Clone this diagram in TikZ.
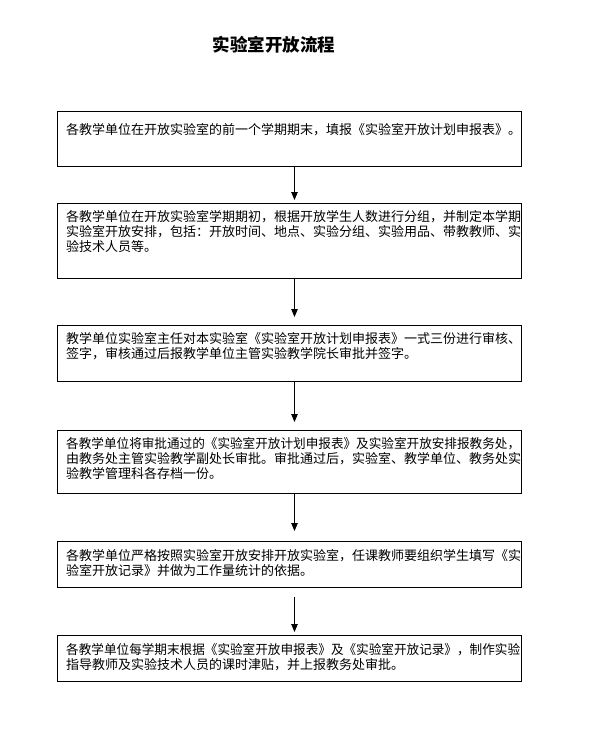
\documentclass[tikz,border=0pt]{standalone}
\usepackage{fontspec}
\usepackage{graphicx}
\setmainfont{Noto Sans CJK SC}
\newfontfamily\cjk{Noto Sans CJK SC}
\usetikzlibrary{arrows.meta,calc}
\tikzset{
  stepbox/.style={draw=black,line width=1pt,rectangle,inner sep=0pt,anchor=north west},
  steptext/.style={anchor=north west,inner sep=0pt,align=left,font=\fontsize{13pt}{15pt}\selectfont\cjk},
  arr/.style={-{Triangle[length=8pt,width=6.5pt]},line width=0.9pt},
}
\newcommand\squeezeline[1]{\scalebox{0.97}[1]{#1}}
\begin{document}
\begin{tikzpicture}[x=1pt,y=-1pt]
\useasboundingbox[fill=white] (0,0) rectangle (599,756);
\coordinate (ax) at (294.5,0);
\node[font=\fontsize{17.5pt}{20pt}\selectfont\cjk\bfseries,anchor=center] (title) at (274,45) {实验室开放流程};

\node[stepbox,minimum width=464pt,minimum height=55pt] (b1) at (57,111) {};
\node[steptext] (t1) at (66,123) {各教学单位在开放实验室的前一个学期期末，填报《实验室开放计划申报表》。};

\node[stepbox,minimum width=464pt,minimum height=75pt] (b2) at (57,203) {};
\node[steptext] (t2) at (66,210) {各教学单位在开放实验室学期期初，根据开放学生人数进行分组，并制定本学期\\实验室开放安排，包括：开放时间、地点、实验分组、实验用品、带教教师、实\\验技术人员等。};

\node[stepbox,minimum width=464pt,minimum height=56pt] (b3) at (57,325) {};
\node[steptext] (t3) at (66,332) {教学单位实验室主任对本实验室《实验室开放计划申报表》一式三份进行审核、\\签字，审核通过后报教学单位主管实验教学院长审批并签字。};

\node[stepbox,minimum width=464pt,minimum height=63pt] (b4) at (57,430) {};
\node[steptext] (t4) at (66,437) {\squeezeline{各教学单位将审批通过的《实验室开放计划申报表》及实验室开放安排报教务处，}\\由教务处主管实验教学副处长审批。审批通过后，实验室、教学单位、教务处实\\验教学管理科各存档一份。};

\node[stepbox,minimum width=464pt,minimum height=46pt] (b5) at (57,541) {};
\node[steptext] (t5) at (66,549) {各教学单位严格按照实验室开放安排开放实验室，任课教师要组织学生填写《实\\验室开放记录》并做为工作量统计的依据。};

\node[stepbox,minimum width=464pt,minimum height=46pt] (b6) at (57,635) {};
\node[steptext] (t6) at (66,643) {\squeezeline{各教学单位每学期末根据《实验室开放申报表》及《实验室开放记录》，制作实验}\\指导教师及实验技术人员的课时津贴，并上报教务处审批。};

\draw[arr,shorten >=3pt] (b1.south -| ax) -- (b2.north -| ax);
\draw[arr,shorten >=8pt] (b2.south -| ax) -- (b3.north -| ax);
\draw[arr,shorten >=8pt] (b3.south -| ax) -- (b4.north -| ax);
\draw[arr,shorten >=10pt] (b4.south -| ax) -- (b5.north -| ax);
\draw[arr,shorten <=9pt,shorten >=3pt] (b5.south -| ax) -- (b6.north -| ax);
\end{tikzpicture}
\end{document}
